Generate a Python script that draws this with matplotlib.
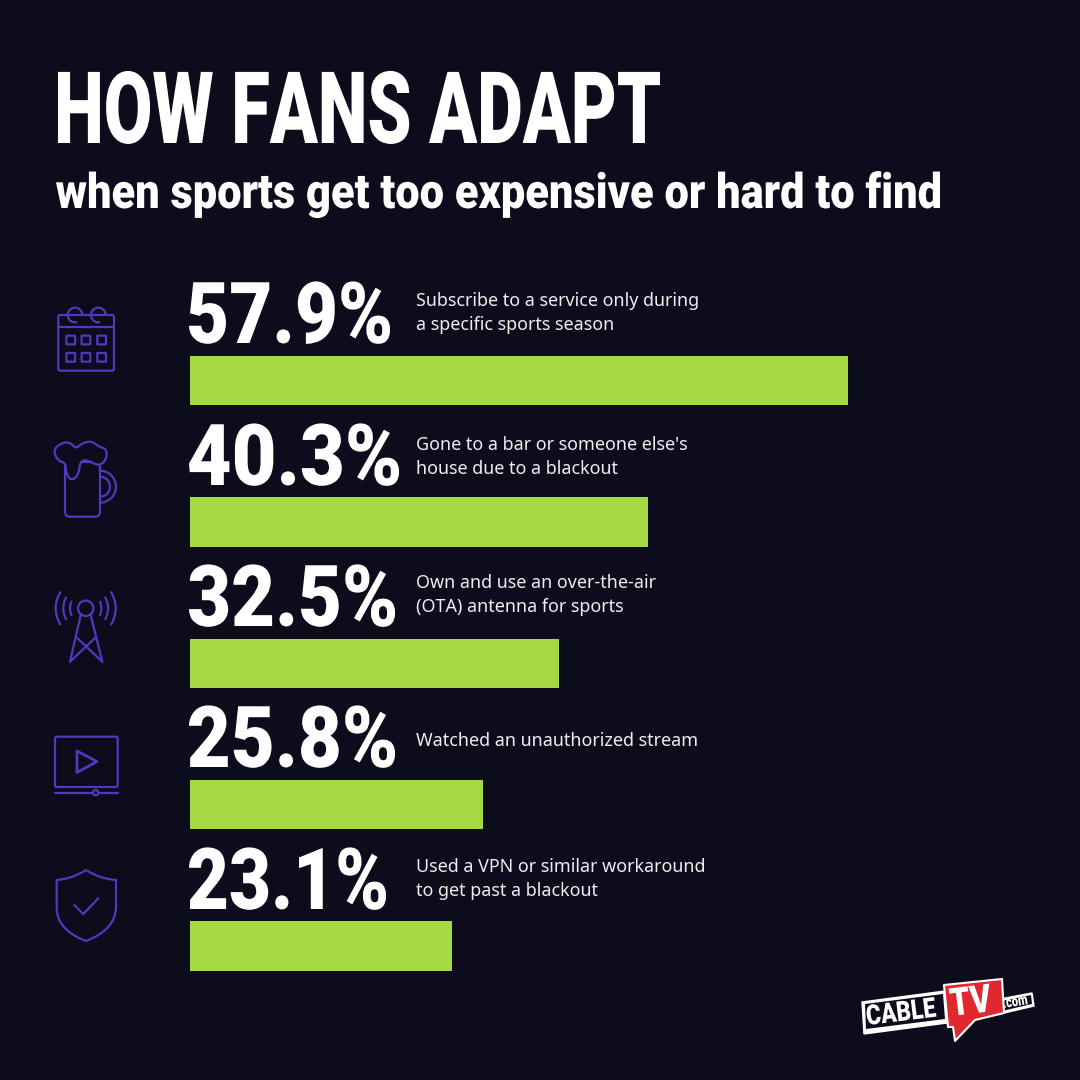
import matplotlib
matplotlib.use("Agg")
import matplotlib.pyplot as plt
import matplotlib.patches as mpatches
from matplotlib.font_manager import FontProperties
from matplotlib.path import Path
from matplotlib.text import Text
from matplotlib.textpath import TextPath
from matplotlib.transforms import Affine2D, Bbox

percents = [57.9, 40.3, 32.5, 25.8, 23.1]
percent_labels = ["57.9%", "40.3%", "32.5%", "25.8%", "23.1%"]
descriptions = [
    ["Subscribe to a service only during", "a specific sports season"],
    ["Gone to a bar or someone else's", "house due to a blackout"],
    ["Own and use an over-the-air", "(OTA) antenna for sports"],
    ["Watched an unauthorized stream"],
    ["Used a VPN or similar workaround", "to get past a blackout"],
]
title = "HOW FANS ADAPT"
subtitle = "when sports get too expensive or hard to find"

BG = "#0c0c1c"
GREEN = "#a5d944"
PURPLE = "#5138bd"
RED = "#e0282e"
ICON_LW = 1.6


class NarrowText(Text):
    """Text squeezed to a given pixel width, no condensed font is installed."""

    def __init__(self, *args, fit_width=None, **kwargs):
        super().__init__(*args, **kwargs)
        self.fit_width = fit_width

    def _glyph_path(self):
        dpi = self.get_figure().dpi
        tp = TextPath((0, 0), self.get_text(), size=self.get_fontsize(),
                      prop=self.get_fontproperties())
        ext = tp.get_extents()
        sy = dpi / 72
        sx = self.fit_width / ext.width
        x, y = self.get_transform().transform(self.get_position())
        tr = (Affine2D().translate(-ext.x0, 0).scale(sx, sy)
              .rotate_deg(self.get_rotation()).translate(x, y))
        return tp, tr

    def draw(self, renderer):
        if not self.get_visible():
            return
        tp, tr = self._glyph_path()
        gc = renderer.new_gc()
        gc.set_antialiased(True)
        gc.set_linewidth(0)
        renderer.draw_path(gc, tp, tr, matplotlib.colors.to_rgb(self.get_color()))
        gc.restore()

    def get_window_extent(self, renderer=None, dpi=None):
        tp, tr = self._glyph_path()
        return Bbox(tp.transformed(tr).get_extents())


def narrow(x, y, s, size, width, weight="bold", rotation=0):
    t = NarrowText(x, y, s, fit_width=width, fontsize=size, rotation=rotation,
                   color="white", transform=ov.transData,
                   fontproperties=FontProperties(family="Roboto", weight=weight, size=size))
    ov.add_artist(t)
    return t


fig = plt.figure(figsize=(10.8, 10.8), dpi=100, facecolor=BG)

# bars get their own axes, x scale is about 11.36 px per percent
ax = fig.add_axes([190 / 1080, 1 - 1016.7 / 1080, 886 / 1080, 706.9 / 1080])
ax.barh(range(len(percents)), percents, height=0.35, color=GREEN)
ax.set_xlim(0, 78)
ax.set_ylim(4.5, -0.5)
ax.axis("off")

# overlay in pixel coordinates for text, icons and the logo
ov = fig.add_axes([0, 0, 1, 1])
ov.set_xlim(0, 1080)
ov.set_ylim(1080, 0)
ov.axis("off")
ov.patch.set_alpha(0)

narrow(58, 143, title, 72, 602, weight="black")
narrow(56, 208, subtitle, 35, 884, weight="black")

label_base = [343, 485, 626, 767, 909]
label_width = [201, 210, 206, 206, 197]
desc_first = [306, 450, 588, 746, 872]
for lab, by, lw, dy, lines in zip(percent_labels, label_base, label_width, desc_first, descriptions):
    narrow(189, by, lab, 61.5, lw, weight="black")
    for k, line in enumerate(lines):
        ov.text(416, dy + 24 * k, line, fontsize=12.9, family="Noto Sans",
                color="#eeeeee", va="baseline")


def stroke(pts, closed=False, lw=ICON_LW):
    ov.add_patch(mpatches.Polygon(pts, closed=closed, fill=False, ec=PURPLE,
                                  lw=lw, joinstyle="round", capstyle="round"))


def box(x, y, w, h, rad=2, lw=ICON_LW):
    ov.add_patch(mpatches.FancyBboxPatch(
        (x, y), w, h, boxstyle=f"round,pad=0,rounding_size={rad}",
        fill=False, ec=PURPLE, lw=lw))


def arc(cx, cy, r, a1, a2, lw=ICON_LW):
    # y axis is flipped so angles run clockwise on screen
    ov.add_patch(mpatches.Arc((cx, cy), 2 * r, 2 * r, theta1=a1, theta2=a2,
                              ec=PURPLE, lw=lw))


def blob(pts, **kw):
    # closed smooth outline, the points are quadratic control points
    mid = [((a[0] + b[0]) / 2, (a[1] + b[1]) / 2) for a, b in zip(pts, pts[1:] + pts[:1])]
    verts = [mid[-1]]
    codes = [Path.MOVETO]
    for p, m in zip(pts, mid):
        verts += [p, m]
        codes += [Path.CURVE3, Path.CURVE3]
    ov.add_patch(mpatches.PathPatch(Path(verts, codes), **kw))


# calendar
box(58.3, 315, 55.7, 55.7)
stroke([(58.3, 326.7), (114, 326.7)])
for cx in (75, 98.3):
    arc(cx, 315, 7.3, 75, 355)
for sy in (335.7, 353):
    for sx in (66.4, 81.6, 97.3):
        box(sx, sy, 8.7, 8.7, rad=0.5)

# beer mug
arc(100, 486.7, 16, -90, 90)
arc(100, 486.7, 10, -90, 90)
box(65, 462, 35, 54.7, rad=5)
blob([(58, 461), (53, 450), (61, 443), (70, 442), (76, 449), (82, 443), (92, 441),
      (99, 447), (107, 449), (106, 461), (98, 466), (88, 460), (80, 461), (79, 474),
      (72, 481), (66, 474), (66, 463)],
     fc=BG, ec=PURPLE, lw=ICON_LW, zorder=3)

# antenna
ov.add_patch(mpatches.Circle((85.7, 608.3), 7.7, fill=False, ec=PURPLE, lw=ICON_LW))
for r, a in ((15.7, 28), (22.4, 31), (30, 34)):
    arc(85.7, 608.3, r, -a, a)
    arc(85.7, 608.3, r, 180 - a, 180 + a)
stroke([(80.7, 615), (70, 661.7)])
stroke([(90.7, 615), (102.3, 661.7)])
stroke([(77.3, 638), (102.3, 661.7)])
stroke([(95, 638), (70, 661.7)])

# video player
box(55, 736.7, 62.7, 50.3, rad=2)
stroke([(55, 792.7), (92, 792.7)])
stroke([(100, 792.7), (118, 792.7)])
ov.add_patch(mpatches.Circle((95.7, 792.7), 2.7, fill=False, ec=PURPLE, lw=ICON_LW))
stroke([(77, 751), (97, 761.5), (77, 772.5)], closed=True, lw=ICON_LW + 0.4)

# shield
shield = Path(
    [(86, 870), (72, 879), (56.7, 880), (56.7, 908), (57, 930), (86, 941),
     (115, 930), (116, 908), (116, 880), (100, 879), (86, 870)],
    [Path.MOVETO, Path.CURVE3, Path.CURVE3, Path.LINETO, Path.CURVE3, Path.CURVE3,
     Path.CURVE3, Path.CURVE3, Path.LINETO, Path.CURVE3, Path.CURVE3])
ov.add_patch(mpatches.PathPatch(shield, fill=False, ec=PURPLE, lw=ICON_LW))
stroke([(74.3, 905), (83.3, 914), (98.3, 898.3)])

# logo
ov.add_patch(mpatches.Polygon([(862, 1002), (945, 991), (947, 1023), (864, 1034)],
                              fc="white", ec="white", lw=1))
ov.add_patch(mpatches.Polygon([(865, 1004), (943, 994), (945, 1019), (866, 1029)],
                              fc=BG, ec="none"))
ov.add_patch(mpatches.Polygon([(1000, 999), (1032, 993), (1034, 1006), (1000, 1014)],
                              fc="white", ec="white", lw=1))
ov.add_patch(mpatches.Polygon([(1002, 1001), (1031, 995), (1032, 1004), (1002, 1011)],
                              fc=BG, ec="none"))
ov.add_patch(mpatches.Polygon(
    [(944, 985), (1002, 979), (1004, 1013), (975, 1020), (955, 1041), (953, 1027), (948, 1027)],
    fc=RED, ec="white", lw=1.5, joinstyle="round"))
narrow(868, 1025, "CABLE", 20, 69, weight="black", rotation=7)
narrow(952, 1016, "TV", 28, 41, weight="black", rotation=7)
narrow(1004, 1008, ".com", 11, 24, weight="black", rotation=9)

fig.savefig("out.png", dpi=100, facecolor=BG)
